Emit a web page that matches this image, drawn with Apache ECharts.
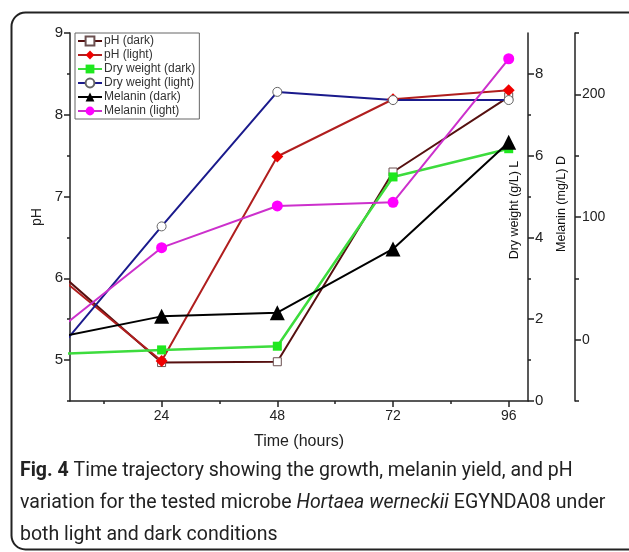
<!DOCTYPE html>
<html>
<head>
<meta charset="utf-8">
<script src="https://cdn.jsdelivr.net/npm/echarts@6/dist/echarts.min.js"></script>
<style>
  html, body { margin: 0; padding: 0; background: #fff; }
  #chart { width: 629px; height: 552px; }
</style>
</head>
<body>
<div id="chart"></div>
<script>
// sampling times (hours); t=0 lies left of the visible axis and gets clipped
var hours = [0, 24, 48, 72, 96];
var phDark = [6.21, 4.97, 4.98, 7.30, 8.22];
var phLight = [6.15, 4.99, 7.49, 8.19, 8.30];
var dryDark = [1.14, 1.25, 1.34, 5.48, 6.17];
var dryLight = [0.89, 4.27, 7.56, 7.36, 7.36];
var melDark = [0, 19, 22, 74, 161];
var melLight = [0, 75, 109, 112, 229];

var timeTicks = [24, 48, 72, 96];
var timeMinor = [12, 36, 60, 84];
var phTicks = [5, 6, 7, 8, 9];
var phMinor = [4.5, 5.5, 6.5, 7.5, 8.5];
var dryTicks = [0, 2, 4, 6, 8];
var dryMinor = [1, 3, 5, 7];
var melTicks = [0, 100, 200];
var melMinor = [-50, 50, 150, 250];

function pairs(ys) {
  return hours.map(function (h, i) { return [h, ys[i]]; });
}

var chart = echarts.init(document.getElementById('chart'));

var lineStyleAxis = { color: '#222', width: 1.5 };

function yAx(opt) {
  var base = {
    type: 'value',
    splitLine: { show: false },
    axisLine: { show: true, lineStyle: lineStyleAxis },
    axisTick: { show: true, inside: false, length: 6, lineStyle: lineStyleAxis },
    axisLabel: { show: true, margin: 5, fontFamily: 'Liberation Sans', fontSize: 14, color: '#222' }
  };
  for (var k in opt) base[k] = opt[k];
  return base;
}

var option = {
  backgroundColor: '#fff',
  animation: false,
  grid: { left: 70, right: 101, top: 33, bottom: 151 },
  legend: {
    orient: 'vertical',
    left: 75,
    top: 33,
    itemWidth: 24,
    itemHeight: 11,
    itemGap: 2,
    padding: [2, 4, 2, 2],
    borderColor: '#666',
    borderWidth: 1,
    textStyle: { fontFamily: 'Liberation Sans', fontSize: 12, color: '#333', padding: [0, 0, 0, -3] },
    data: ['pH (dark)', 'pH (light)', 'Dry weight (dark)', 'Dry weight (light)', 'Melanin (dark)', 'Melanin (light)']
  },
  xAxis: [
    {
      type: 'value', min: 5, max: 100,
      name: 'Time (hours)', nameLocation: 'middle', nameGap: 33,
      nameTextStyle: { fontFamily: 'Liberation Sans', fontSize: 16, color: '#222' },
      splitLine: { show: false },
      axisLine: { show: true, onZero: false, lineStyle: lineStyleAxis },
      axisTick: { show: true, length: 6, customValues: timeTicks, lineStyle: lineStyleAxis },
      axisLabel: { show: true, margin: 8, customValues: timeTicks, fontFamily: 'Liberation Sans', fontSize: 14, color: '#222' }
    },
    {
      type: 'value', min: 5, max: 100, position: 'bottom',
      splitLine: { show: false },
      axisLine: { show: false, onZero: false },
      axisTick: { show: true, length: 3, customValues: timeMinor, lineStyle: lineStyleAxis },
      axisLabel: { show: false }
    }
  ],
  yAxis: [
    yAx({
      position: 'left', min: 4.5, max: 9,
      name: 'pH', nameLocation: 'middle', nameGap: 21, nameRotate: 90,
      nameTextStyle: { fontFamily: 'Liberation Sans', fontSize: 14, color: '#222' },
      axisTick: { show: true, length: 6, customValues: phTicks, lineStyle: lineStyleAxis },
      axisLabel: { show: true, margin: 7, customValues: phTicks, fontFamily: 'Liberation Sans', fontSize: 15, color: '#222' }
    }),
    yAx({
      position: 'left', min: 4.5, max: 9,
      axisLine: { show: false },
      axisTick: { show: true, length: 3, customValues: phMinor, lineStyle: lineStyleAxis },
      axisLabel: { show: false }
    }),
    yAx({
      position: 'right', min: 0, max: 9,
      axisTick: { show: true, length: 6, customValues: dryTicks, lineStyle: lineStyleAxis },
      axisLabel: { show: true, margin: 7, customValues: dryTicks, fontFamily: 'Liberation Sans', fontSize: 15, color: '#222' }
    }),
    yAx({
      position: 'right', min: 0, max: 9,
      axisLine: { show: false },
      axisTick: { show: true, length: 3, customValues: dryMinor, lineStyle: lineStyleAxis },
      axisLabel: { show: false }
    }),
    yAx({
      position: 'right', offset: 47, min: -50, max: 250,
      axisTick: { show: true, length: 6, customValues: melTicks, lineStyle: lineStyleAxis },
      axisLabel: { show: true, margin: 7, customValues: melTicks, fontFamily: 'Liberation Sans', fontSize: 14, color: '#222' }
    }),
    yAx({
      position: 'right', offset: 47, min: -50, max: 250,
      axisLine: { show: false },
      axisTick: { show: true, length: 4, customValues: melMinor, lineStyle: lineStyleAxis },
      axisLabel: { show: false }
    })
  ],
  series: [
    {
      name: 'pH (dark)', type: 'line', yAxisIndex: 0, data: pairs(phDark),
      symbol: 'rect', symbolSize: 8, showAllSymbol: true,
      lineStyle: { color: '#561010', width: 2 },
      itemStyle: { color: '#fff', borderColor: '#6b5050', borderWidth: 1 }
    },
    {
      name: 'pH (light)', type: 'line', yAxisIndex: 0, data: pairs(phLight),
      symbol: 'diamond', symbolSize: 12,
      lineStyle: { color: '#b01e1e', width: 2 },
      itemStyle: { color: '#f00000', borderWidth: 0 }
    },
    {
      name: 'Dry weight (dark)', type: 'line', yAxisIndex: 2, data: pairs(dryDark),
      symbol: 'rect', symbolSize: 9,
      lineStyle: { color: '#3ddc3d', width: 2.5 },
      itemStyle: { color: '#1ee81e', borderWidth: 0 }
    },
    {
      name: 'Dry weight (light)', type: 'line', yAxisIndex: 2, data: pairs(dryLight),
      symbol: 'circle', symbolSize: 9,
      lineStyle: { color: '#1a1a8c', width: 2 },
      itemStyle: { color: '#fff', borderColor: '#666', borderWidth: 1 }
    },
    {
      name: 'Melanin (dark)', type: 'line', yAxisIndex: 4, data: pairs(melDark),
      symbol: 'triangle', symbolSize: 15,
      lineStyle: { color: '#000', width: 2 },
      itemStyle: { color: '#000', borderWidth: 0 }
    },
    {
      name: 'Melanin (light)', type: 'line', yAxisIndex: 4, data: pairs(melLight),
      symbol: 'circle', symbolSize: 11,
      lineStyle: { color: '#cc30cc', width: 2 },
      itemStyle: { color: '#ff00ff', borderWidth: 0 }
    }
  ],
  graphic: [
    {
      type: 'rect', left: 9, top: 10, silent: true,
      shape: { width: 640, height: 537, r: 14 },
      style: { fill: 'none', stroke: '#222', lineWidth: 2 }
    },
    {
      type: 'text', x: 515, y: 210, rotation: Math.PI / 2, silent: true,
      style: { text: 'Dry weight (g/L) L', align: 'center', verticalAlign: 'middle', fontFamily: 'Liberation Sans', fontSize: 12.5, fill: '#111' }
    },
    {
      type: 'text', x: 562, y: 204, rotation: Math.PI / 2, silent: true,
      style: { text: 'Melanin (mg/L) D', align: 'center', verticalAlign: 'middle', fontFamily: 'Liberation Sans', fontSize: 12.5, fill: '#111' }
    },
    {
      type: 'text', x: 20, y: 471, silent: true,
      style: {
        text: '{b|Fig. 4} Time trajectory showing the growth, melanin yield, and pH',
        verticalAlign: 'middle', fontFamily: 'Roboto', fontSize: 19.5, fill: '#222',
        rich: { b: { fontWeight: 'bold', fontFamily: 'Roboto', fontSize: 19.5, fill: '#222' } }
      }
    },
    {
      type: 'text', x: 20, y: 503, silent: true,
      style: {
        text: 'variation for the tested microbe {i|Hortaea werneckii} EGYNDA08 under',
        verticalAlign: 'middle', fontFamily: 'Roboto', fontSize: 19.5, fill: '#222',
        rich: { i: { fontStyle: 'italic', fontFamily: 'Roboto', fontSize: 19.5, fill: '#222' } }
      }
    },
    {
      type: 'text', x: 20, y: 535, silent: true,
      style: { text: 'both light and dark conditions', verticalAlign: 'middle', fontFamily: 'Roboto', fontSize: 19.5, fill: '#222' }
    }
  ]
};

chart.setOption(option);
</script>
</body>
</html>
